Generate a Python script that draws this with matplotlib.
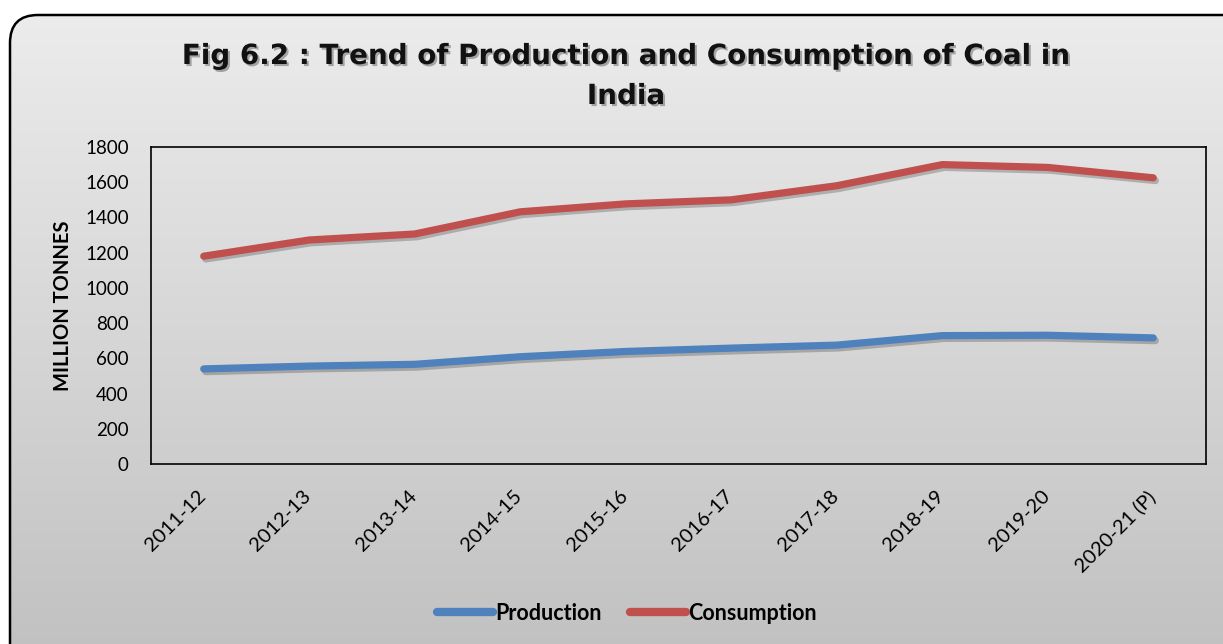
import numpy as np
import matplotlib
matplotlib.use("Agg")
import matplotlib.pyplot as plt
from matplotlib.patches import FancyBboxPatch
import matplotlib.patheffects as pe
import matplotlib.transforms as mtransforms

years = ["2011-12", "2012-13", "2013-14", "2014-15", "2015-16",
         "2016-17", "2017-18", "2018-19", "2019-20", "2020-21 (P)"]
production = [540, 556, 566, 609, 639, 658, 675, 729, 731, 716]
consumption = [1180, 1272, 1306, 1432, 1477, 1500, 1580, 1700, 1684, 1625]
yticks = [0, 200, 400, 600, 800, 1000, 1200, 1400, 1600, 1800]

W, H = 1223, 644
fig = plt.figure(figsize=(W / 100, H / 100), dpi=100)
fig.patch.set_facecolor("white")

# background with rounded border
bg = fig.add_axes([0, 0, 1, 1], zorder=-2)
bg.set_xlim(0, W)
bg.set_ylim(H, 0)
bg.axis("off")
grad = np.linspace(0, 1, 256).reshape(-1, 1)
top = np.array([0.925, 0.925, 0.925])
bot = np.array([0.745, 0.745, 0.745])
img = top + (bot - top) * grad[..., None] * np.ones((1, 2, 1))
box = FancyBboxPatch((10, 15), W + 40, H + 40,
                     boxstyle="round,pad=0,rounding_size=28",
                     facecolor="none", edgecolor="black", linewidth=1.8)
bg.add_patch(box)
im = bg.imshow(img, extent=[10, W + 50, H + 55, 15], aspect="auto", zorder=0)
im.set_clip_path(box)

ax = fig.add_axes([151 / W, 1 - 464 / H, 1055 / W, 317 / H])
ax.set_facecolor("none")
x = np.arange(len(years))
shadow = [pe.SimpleLineShadow(offset=(1.5, -2), alpha=0.22, shadow_color="black"), pe.Normal()]
lp, = ax.plot(x, production, color="#4f81bd", lw=5.2, solid_capstyle="round",
              solid_joinstyle="round", label="Production", path_effects=shadow)
lc, = ax.plot(x, consumption, color="#c0504d", lw=5.2, solid_capstyle="round",
              solid_joinstyle="round", label="Consumption", path_effects=shadow)
ax.set_xlim(-0.5, len(years) - 0.5)
ax.set_ylim(0, 1800)
ax.tick_params(axis="y", length=0, pad=16)
ax.tick_params(axis="x", length=0, pad=17)
ax.set_yticks(yticks)
ax.set_yticklabels([str(v) for v in yticks], fontsize=13.5, family="Lato")
ax.set_xticks(x)
ax.set_xticklabels(years, rotation=45, ha="right", rotation_mode="anchor",
                   fontsize=14.5, family="Lato")
off = mtransforms.ScaledTranslation(-7 / 100, 0, fig.dpi_scale_trans)
for lab in ax.get_xticklabels():
    lab.set_transform(lab.get_transform() + off)
for s in ax.spines.values():
    s.set_color("black")
    s.set_linewidth(1.2)
ax.set_ylabel("MILLION TONNES", fontsize=14.5, fontweight="bold", family="Lato", labelpad=9)

title_fx = [pe.withSimplePatchShadow(offset=(1.5, -1.5), alpha=0.3)]
fig.text(626 / W, 1 - 56 / H, "Fig 6.2 : Trend of Production and Consumption of Coal in",
         ha="center", va="center", fontsize=20, fontweight="bold", family="DejaVu Sans",
         color="#111111", path_effects=title_fx)
fig.text(626 / W, 1 - 96 / H, "India", ha="center", va="center", fontsize=20,
         fontweight="bold", family="DejaVu Sans", color="#111111", path_effects=title_fx)

hp = plt.Line2D([], [], color="#4f81bd", lw=6, solid_capstyle="round")
hc = plt.Line2D([], [], color="#c0504d", lw=6, solid_capstyle="round")
leg = fig.legend([hp, hc], ["Production", "Consumption"], loc="center",
                 bbox_to_anchor=(627 / W, 1 - 613 / H), ncol=2,
                 frameon=False, handlelength=2.6, handletextpad=0.1, columnspacing=1.3,
                 prop={"family": "Lato", "weight": "bold", "size": 15.5})

fig.savefig("out.png", dpi=100)
